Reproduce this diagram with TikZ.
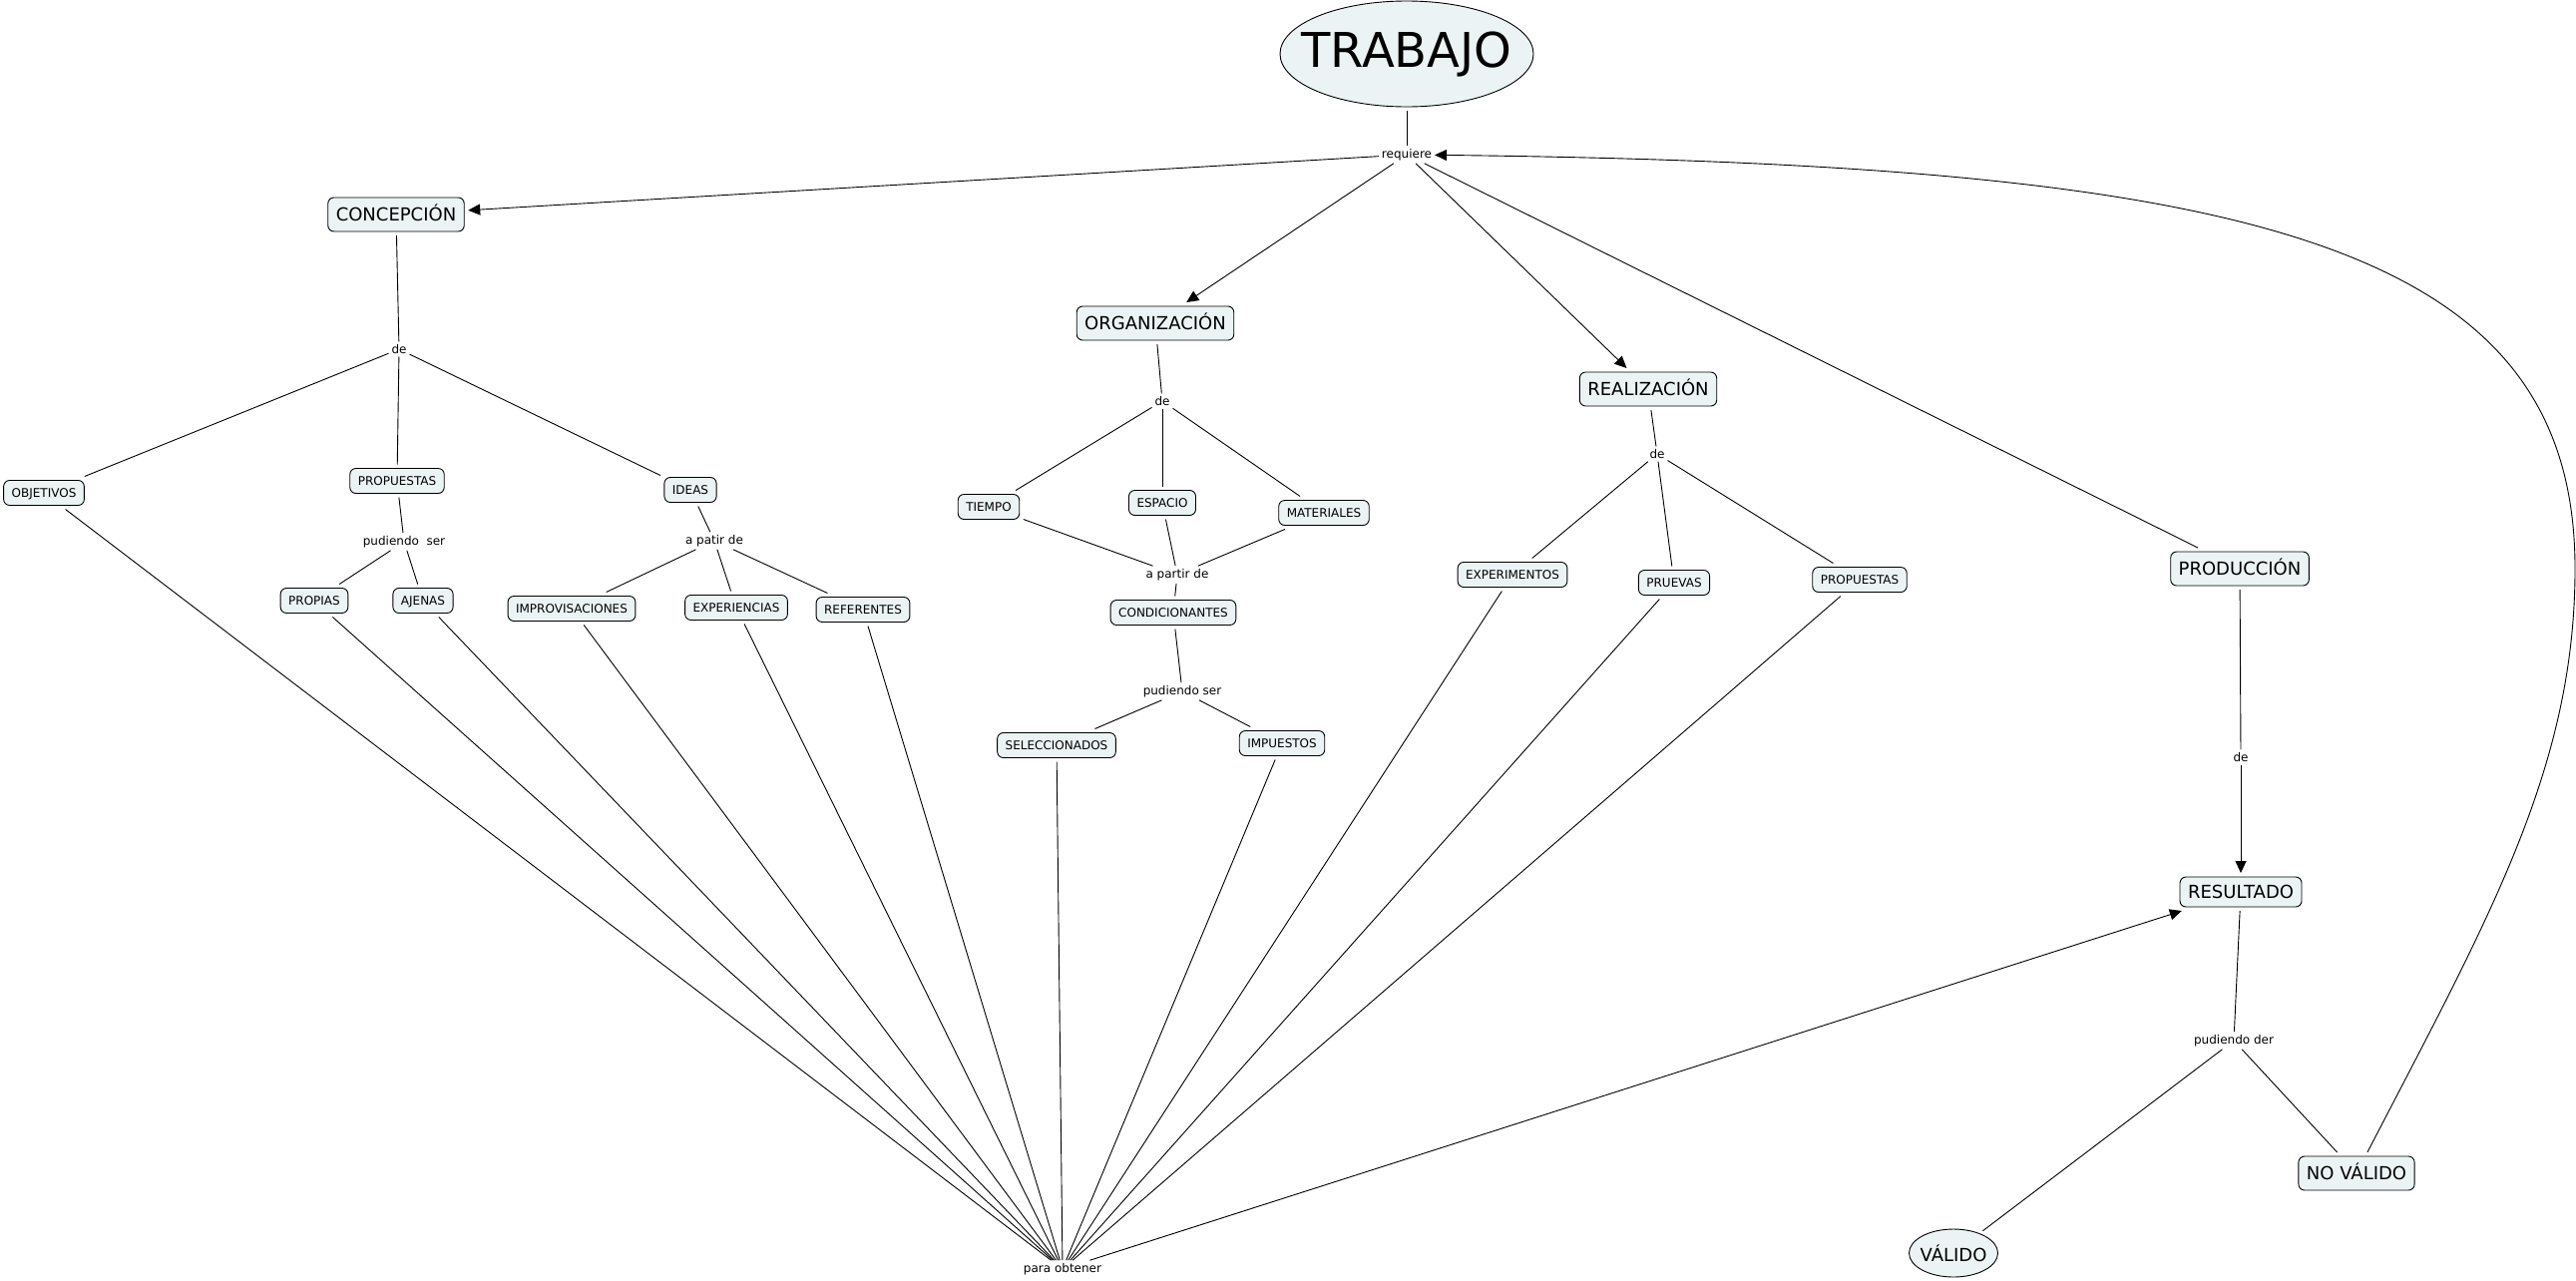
\documentclass[tikz,border=0pt]{standalone}
\usepackage{fontspec}
\setmainfont{DejaVu Sans}
\usepackage{xcolor}
\usepackage{tikz}
\usetikzlibrary{arrows.meta,shapes.geometric}
\definecolor{cmapfill}{RGB}{236,243,245}

\begin{document}
\begin{tikzpicture}[x=1pt,y=-1pt]
\tikzstyle{every node}+=[outer sep=0pt]
\tikzstyle{concept}=[draw=black,fill=cmapfill,rounded corners=6pt,line width=0.9pt,inner xsep=8pt,inner ysep=0pt,outer sep=4pt]
\tikzstyle{smallbox}=[concept,font=\fontsize{12}{14}\selectfont,minimum height=25pt,text height=8.8pt,text depth=0pt]
\tikzstyle{bigbox}=[concept,font=\fontsize{18}{21}\selectfont,minimum height=34pt,text height=13.1pt,text depth=0pt]
\tikzstyle{oval}=[concept,ellipse,inner sep=0pt]
\tikzstyle{link}=[font=\fontsize{12}{14}\selectfont,inner sep=3pt]
\tikzstyle{wire}=[black,line width=0.9pt]
\tikzstyle{arr}=[wire,-{Triangle[length=12pt,width=11pt]}]
\useasboundingbox (0,0) rectangle (2582,1283);

\node[oval,font=\fontsize{48}{56}\selectfont,minimum width=254pt,minimum height=106pt] (trabajo) at (1410,54) {\makebox[150pt]{TRABAJO}};
\node[link] (req) at (1410,155) {requiere};
\node[bigbox] (concepcion) at (397,215) {CONCEPCIÓN};
\node[bigbox] (organizacion) at (1158,324) {ORGANIZACIÓN};
\node[bigbox] (realizacion) at (1652,390) {REALIZACIÓN};
\node[bigbox] (produccion) at (2245,570) {PRODUCCIÓN};
\node[bigbox,minimum height=30pt] (resultado) at (2246,894) {RESULTADO};
\node[bigbox] (novalido) at (2362,1176) {NO VÁLIDO};
\node[oval,font=\fontsize{18}{21}\selectfont,minimum width=89pt,minimum height=48pt] (valido) at (1958,1256) {\makebox[50pt]{VÁLIDO}};

\node[link] (de1) at (400,350) {de};
\node[smallbox] (objetivos) at (44,494) {OBJETIVOS};
\node[smallbox] (propuestas1) at (398,482) {PROPUESTAS};
\node[smallbox] (ideas) at (692,491) {IDEAS};
\node[link] (pud1) at (405,543) {pudiendo\ \ ser};
\node[smallbox] (propias) at (315,602) {PROPIAS};
\node[smallbox] (ajenas) at (424,602) {AJENAS};
\node[link] (apatir1) at (716,542) {a patir de};
\node[smallbox] (improvisaciones) at (573,610) {IMPROVISACIONES};
\node[smallbox] (experiencias) at (738,609) {EXPERIENCIAS};
\node[smallbox] (referentes) at (865,611) {REFERENTES};

\node[link] (de2) at (1165,402) {de};
\node[smallbox] (tiempo) at (991,508) {TIEMPO};
\node[smallbox] (espacio) at (1165,504) {ESPACIO};
\node[smallbox] (materiales) at (1327,514) {MATERIALES};
\node[link] (apartir2) at (1180,576) {a partir de};
\node[smallbox] (condicionantes) at (1176,614) {CONDICIONANTES};
\node[link] (pud2) at (1185,693) {pudiendo ser};
\node[smallbox] (seleccionados) at (1059,747) {SELECCIONADOS};
\node[smallbox] (impuestos) at (1285,745) {IMPUESTOS};

\node[link] (de3) at (1661,455) {de};
\node[smallbox] (experimentos) at (1516,576) {EXPERIMENTOS};
\node[smallbox] (pruevas) at (1678,584) {PRUEVAS};
\node[smallbox] (propuestas2) at (1864,581) {PROPUESTAS};

\node[link] (de4) at (2246,759) {de};
\node[link] (pud3) at (2239,1043) {pudiendo der};
\node[link] (obtener) at (1065,1272) {para obtener};
\coordinate (bend) at (2581,570);

\draw[wire] (trabajo) -- (req);
\draw[arr] (req) -- (concepcion);
\draw[arr] (req) -- (organizacion);
\draw[arr] (req) -- (realizacion);
\draw[wire] (req) -- (produccion);

\draw[wire] (concepcion) -- (de1);
\draw[wire] (de1) -- (objetivos);
\draw[wire] (de1) -- (propuestas1);
\draw[wire] (de1) -- (ideas);
\draw[wire] (propuestas1) -- (pud1);
\draw[wire] (pud1) -- (propias);
\draw[wire] (pud1) -- (ajenas);
\draw[wire] (ideas) -- (apatir1);
\draw[wire] (apatir1) -- (improvisaciones);
\draw[wire] (apatir1) -- (experiencias);
\draw[wire] (apatir1) -- (referentes);

\draw[wire] (organizacion) -- (de2);
\draw[wire] (de2) -- (tiempo);
\draw[wire] (de2) -- (espacio);
\draw[wire] (de2) -- (materiales);
\draw[wire] (tiempo) -- (apartir2);
\draw[wire] (espacio) -- (apartir2);
\draw[wire] (materiales) -- (apartir2);
\draw[wire] (apartir2) -- (condicionantes);
\draw[wire] (condicionantes) -- (pud2);
\draw[wire] (pud2) -- (seleccionados);
\draw[wire] (pud2) -- (impuestos);

\draw[wire] (realizacion) -- (de3);
\draw[wire] (de3) -- (experimentos);
\draw[wire] (de3) -- (pruevas);
\draw[wire] (de3) -- (propuestas2);

\draw[wire] (produccion) -- (de4);
\draw[arr] (de4) -- (resultado);
\draw[wire] (resultado) -- (pud3);
\draw[wire] (pud3) -- (valido);
\draw[wire] (pud3) -- (novalido);
\draw[arr] (novalido) .. controls (2494,921) and (2581,770) .. (bend) .. controls (2581,240) and (2250,165) .. (req);

\draw[wire] (objetivos) -- (obtener);
\draw[wire] (propias) -- (obtener);
\draw[wire] (ajenas) -- (obtener);
\draw[wire] (improvisaciones) -- (obtener);
\draw[wire] (experiencias) -- (obtener);
\draw[wire] (referentes) -- (obtener);
\draw[wire] (seleccionados) -- (obtener);
\draw[wire] (impuestos) -- (obtener);
\draw[wire] (experimentos) -- (obtener);
\draw[wire] (pruevas) -- (obtener);
\draw[wire] (propuestas2) -- (obtener);
\draw[arr] (obtener) -- (resultado);

\end{tikzpicture}
\end{document}
